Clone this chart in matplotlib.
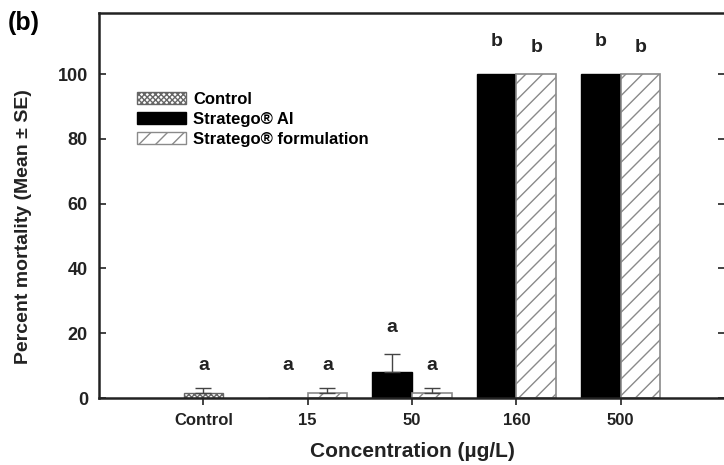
import matplotlib
matplotlib.use("Agg")
import matplotlib.pyplot as plt
from matplotlib.patches import Patch
import numpy as np

plt.rcParams['font.family'] = ['Liberation Sans', 'DejaVu Sans']
plt.rcParams['hatch.linewidth'] = 1.0

categories = ['Control', '15', '50', '160', '500']

# mortality (%) with standard errors
control_mean = 1.5
control_se = 1.5
ai_mean = [0, 8, 100, 100]
ai_se = [0, 5.6, 0, 0]
form_mean = [1.5, 1.5, 100, 100]
form_se = [1.5, 1.5, 0, 0]

control_letter = 'a'
ai_letters = ['a', 'a', 'b', 'b']
form_letters = ['a', 'a', 'b', 'b']

fig = plt.figure(figsize=(7.24, 4.65), dpi=100)
ax = fig.add_axes([99/724, 1 - 398/465, (725 - 99)/724, (398 - 12.7)/465])

x = np.arange(1, len(categories) + 1)
w = 0.38
xt = x[1:]
ai_x = xt - w/2
form_x = xt + w/2

ax.bar(x[0], control_mean, w, color='white', edgecolor='#666666',
       hatch='xxxxxx', linewidth=1.0, zorder=2)
ax.bar(ai_x, ai_mean, w, color='black', edgecolor='black', zorder=2)
ax.bar(form_x, form_mean, w, color='white', edgecolor='#8a8a8a',
       hatch='//', linewidth=1.2, zorder=2)

# error bars only where there is spread
ekw = dict(fmt='none', ecolor='#444444', elinewidth=1.0, capsize=6, capthick=1.0, zorder=3)
ax.errorbar([x[0]], [control_mean], yerr=[[0], [control_se]], **ekw)
for xs, ms, ss in [(ai_x, ai_mean, ai_se), (form_x, form_mean, form_se)]:
    for xi, m, s in zip(xs, ms, ss):
        if s > 0:
            ax.errorbar([xi], [m], yerr=[[0], [s]], **ekw)

lkw = dict(ha='center', va='bottom', fontsize=14, fontweight='bold', color='#222222')
ax.text(x[0], control_mean + control_se + 4.5, control_letter, **lkw)
for xi, m, s, t in zip(ai_x, ai_mean, ai_se, ai_letters):
    ax.text(xi, m + s + (5.5 if s else 7.5), t, **lkw)
for xi, m, s, t in zip(form_x, form_mean, form_se, form_letters):
    ax.text(xi, m + s + (4.5 if s else 5.5), t, **lkw)

ax.set_xlim(0, 6)
ax.set_ylim(0, 119)
ax.set_xticks(x)
ax.set_xticklabels(categories, fontsize=12, fontweight='bold')
ax.set_yticks([0, 20, 40, 60, 80, 100])
ax.set_yticklabels(['0', '20', '40', '60', '80', '100'], fontsize=13, fontweight='bold')
ax.tick_params(axis='y', direction='in', length=5, width=1.2, right=True, pad=8, colors='#222222')
ax.tick_params(axis='x', direction='out', length=5, width=1.2, pad=6, colors='#222222')
for sp in ax.spines.values():
    sp.set_linewidth(1.8)
    sp.set_color('#222222')

ax.set_ylabel('Percent mortality (Mean ± SE)', fontsize=14, fontweight='bold', color='#222222')
ax.yaxis.set_label_coords(-0.107, 0.445)
ax.set_xlabel('Concentration (µg/L)', fontsize=15, fontweight='bold', labelpad=10, color='#222222')

handles = [
    Patch(facecolor='white', edgecolor='#666666', hatch='xxxxxx', label='Control'),
    Patch(facecolor='black', edgecolor='black', label='Stratego® AI'),
    Patch(facecolor='white', edgecolor='#8a8a8a', hatch='//', label='Stratego® formulation'),
]
ax.legend(handles=handles, loc='upper left', bbox_to_anchor=(0.061, 0.795), frameon=False,
          handlelength=2.9, handleheight=0.75, handletextpad=0.45,
          labelspacing=0.3, borderpad=0, borderaxespad=0,
          prop={'weight': 'bold', 'size': 12})

fig.text(8/724, 1 - 23/465, '(b)', fontsize=18, fontweight='bold', va='center', ha='left')

fig.savefig('out.png', dpi=100)
